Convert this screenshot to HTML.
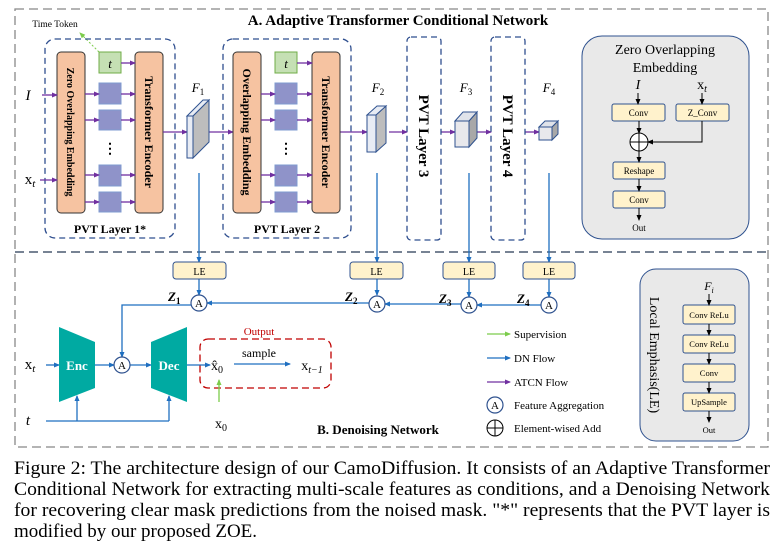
<!DOCTYPE html>
<html><head><meta charset="utf-8"><style>
html,body{margin:0;padding:0;background:#fff;width:784px;height:554px;overflow:hidden}
svg{display:block}
text{font-family:"Liberation Serif",serif}
</style></head><body>
<svg width="784" height="554" viewBox="0 0 784 554" xmlns="http://www.w3.org/2000/svg">
<defs>
<marker id="ap" markerWidth="6" markerHeight="6" refX="5" refY="3" orient="auto" markerUnits="userSpaceOnUse"><path d="M0,0.5 L6,3 L0,5.5z" fill="#7030a0"/></marker>
<marker id="ab" markerWidth="6" markerHeight="6" refX="5" refY="3" orient="auto" markerUnits="userSpaceOnUse"><path d="M0,0.5 L6,3 L0,5.5z" fill="#1f6fc0"/></marker>
<marker id="ak" markerWidth="6" markerHeight="6" refX="5" refY="3" orient="auto" markerUnits="userSpaceOnUse"><path d="M0,0.5 L6,3 L0,5.5z" fill="#000"/></marker>
<marker id="ag" markerWidth="6" markerHeight="6" refX="5" refY="3" orient="auto" markerUnits="userSpaceOnUse"><path d="M0,0.5 L6,3 L0,5.5z" fill="#7ccc4c"/></marker>
</defs>

<rect x="15" y="9" width="753" height="438" fill="none" stroke="#888" stroke-width="1.3" stroke-dasharray="9,5"/>
<line x1="15" y1="252" x2="768" y2="252" stroke="#4a5a70" stroke-width="1.5" stroke-dasharray="9,5"/>
<text x="398" y="25" font-size="15" font-weight="bold" text-anchor="middle">A. Adaptive Transformer Conditional Network</text>

<text x="55" y="27" font-size="9.5" text-anchor="middle">Time Token</text>
<line x1="99" y1="52" x2="80" y2="33" stroke="#7ccc4c" stroke-width="1" stroke-dasharray="2,2" marker-end="url(#ag)"/>

<rect x="45" y="39" width="130" height="199" rx="10" fill="none" stroke="#2f4f8f" stroke-width="1.3" stroke-dasharray="6,4"/>
<rect x="57" y="52" width="28" height="161" rx="4" fill="#f6c3a1" stroke="#333"/>
<text transform="translate(67,132) rotate(90)" font-size="10" font-weight="bold" text-anchor="middle">Zero Overlapping Embedding</text>
<rect x="99" y="52" width="22" height="21" fill="#c5e0b4" stroke="#70ad47"/>
<text x="110" y="68" font-size="13" font-style="italic" text-anchor="middle">t</text>
<g fill="#8f93c9" stroke="#7f9bd0">
<rect x="99" y="83" width="22" height="21"/><rect x="99" y="110" width="22" height="20"/>
<rect x="99" y="165" width="22" height="21"/><rect x="99" y="192" width="22" height="20"/></g>
<text x="110" y="153" font-size="14" font-weight="bold" text-anchor="middle">⋮</text>
<rect x="135" y="52" width="28" height="161" rx="4" fill="#f6c3a1" stroke="#333"/>
<text transform="translate(145,132) rotate(90)" font-size="12" font-weight="bold" text-anchor="middle">Transformer Encoder</text>
<text x="110" y="233" font-size="12" font-weight="bold" text-anchor="middle">PVT Layer 1*</text>
<g stroke="#7030a0" stroke-width="1.3" marker-end="url(#ap)">
<line x1="42" y1="95" x2="57" y2="95"/><line x1="40" y1="180" x2="57" y2="180"/>
<line x1="85" y1="94" x2="99" y2="94"/><line x1="85" y1="120" x2="99" y2="120"/>
<line x1="85" y1="175" x2="99" y2="175"/><line x1="85" y1="202" x2="99" y2="202"/>
<line x1="121" y1="63" x2="135" y2="63"/><line x1="121" y1="94" x2="135" y2="94"/>
<line x1="121" y1="120" x2="135" y2="120"/><line x1="121" y1="175" x2="135" y2="175"/>
<line x1="121" y1="202" x2="135" y2="202"/>
<line x1="163" y1="132" x2="187" y2="132"/>
<line x1="209" y1="132" x2="233" y2="132"/>
<line x1="340" y1="132" x2="367" y2="132"/>
<line x1="389" y1="132" x2="407" y2="132"/>
<line x1="441" y1="132" x2="455" y2="132"/>
<line x1="477" y1="132" x2="491" y2="132"/>
<line x1="525" y1="132" x2="539" y2="132"/>
</g>
<text x="28" y="100" font-size="15" font-style="italic" text-anchor="middle">I</text>
<text x="30" y="184" font-size="15" text-anchor="middle">x<tspan font-size="11" font-style="italic" dy="3">t</tspan></text>

<polygon points="193,116 209,100 209,142 193,158" fill="#bdbdbd" stroke="#2f528f"/>
<polygon points="187,116 203,100 209,100 193,116" fill="#e8ecf4" stroke="#2f528f"/>
<rect x="187" y="116" width="6" height="42" fill="#e8ecf4" stroke="#2f528f"/>
<text x="198" y="92" font-size="13" font-style="italic" text-anchor="middle">F<tspan font-size="9" font-style="normal" dy="3">1</tspan></text>

<rect x="223" y="39" width="128" height="199" rx="10" fill="none" stroke="#2f4f8f" stroke-width="1.3" stroke-dasharray="6,4"/>
<rect x="233" y="52" width="28" height="161" rx="4" fill="#f6c3a1" stroke="#333"/>
<text transform="translate(243,132) rotate(90)" font-size="12" font-weight="bold" text-anchor="middle">Overlapping Embedding</text>
<rect x="275" y="52" width="22" height="21" fill="#c5e0b4" stroke="#70ad47"/>
<text x="286" y="68" font-size="13" font-style="italic" text-anchor="middle">t</text>
<g fill="#8f93c9" stroke="#7f9bd0">
<rect x="275" y="83" width="22" height="21"/><rect x="275" y="110" width="22" height="20"/>
<rect x="275" y="165" width="22" height="21"/><rect x="275" y="192" width="22" height="20"/></g>
<text x="286" y="153" font-size="14" font-weight="bold" text-anchor="middle">⋮</text>
<rect x="312" y="52" width="28" height="161" rx="4" fill="#f6c3a1" stroke="#333"/>
<text transform="translate(322,132) rotate(90)" font-size="12" font-weight="bold" text-anchor="middle">Transformer Encoder</text>
<text x="287" y="233" font-size="12" font-weight="bold" text-anchor="middle">PVT Layer 2</text>
<g stroke="#7030a0" stroke-width="1.3" marker-end="url(#ap)">
<line x1="261" y1="94" x2="275" y2="94"/><line x1="261" y1="120" x2="275" y2="120"/>
<line x1="261" y1="175" x2="275" y2="175"/><line x1="261" y1="202" x2="275" y2="202"/>
<line x1="297" y1="63" x2="312" y2="63"/><line x1="297" y1="94" x2="312" y2="94"/>
<line x1="297" y1="120" x2="312" y2="120"/><line x1="297" y1="175" x2="312" y2="175"/>
<line x1="297" y1="202" x2="312" y2="202"/></g>

<polygon points="376,115 386,106 386,143 376,152" fill="#bdbdbd" stroke="#2f528f"/>
<polygon points="367,115 377,106 386,106 376,115" fill="#e8ecf4" stroke="#2f528f"/>
<rect x="367" y="115" width="9" height="37" fill="#e8ecf4" stroke="#2f528f"/>
<text x="378" y="92" font-size="13" font-style="italic" text-anchor="middle">F<tspan font-size="9" font-style="normal" dy="3">2</tspan></text>

<rect x="407" y="37" width="34" height="203" rx="4" fill="none" stroke="#2f4f8f" stroke-width="1.3" stroke-dasharray="6,4"/>
<text transform="translate(419,136) rotate(90)" font-size="15" font-weight="bold" text-anchor="middle">PVT Layer 3</text>
<rect x="491" y="37" width="34" height="203" rx="4" fill="none" stroke="#2f4f8f" stroke-width="1.3" stroke-dasharray="6,4"/>
<text transform="translate(503,136) rotate(90)" font-size="15" font-weight="bold" text-anchor="middle">PVT Layer 4</text>

<polygon points="469,121 477,112 477,138 469,147" fill="#a8a8a8" stroke="#2f528f"/>
<polygon points="455,121 463,112 477,112 469,121" fill="#e0e3ea" stroke="#2f528f"/>
<rect x="455" y="121" width="14" height="26" fill="#e8e8ec" stroke="#2f528f"/>
<text x="466" y="92" font-size="13" font-style="italic" text-anchor="middle">F<tspan font-size="9" font-style="normal" dy="3">3</tspan></text>
<polygon points="552,127 558,121 558,134 552,140" fill="#a8a8a8" stroke="#2f528f"/>
<polygon points="539,127 545,121 558,121 552,127" fill="#e0e3ea" stroke="#2f528f"/>
<rect x="539" y="127" width="13" height="13" fill="#e8e8ec" stroke="#2f528f"/>
<text x="549" y="92" font-size="13" font-style="italic" text-anchor="middle">F<tspan font-size="9" font-style="normal" dy="3">4</tspan></text>

<rect x="582" y="36" width="167" height="203" rx="20" fill="#e9e9e9" stroke="#2f528f"/>
<text x="665" y="54" font-size="14" text-anchor="middle">Zero Overlapping</text>
<text x="665" y="72" font-size="14" text-anchor="middle">Embedding</text>
<text x="638" y="89" font-size="14" font-style="italic" text-anchor="middle">I</text>
<text x="702" y="89" font-size="14" text-anchor="middle">x<tspan font-size="10" font-style="italic" dy="3">t</tspan></text>
<g fill="#fff2cc" stroke="#2f528f">
<rect x="612" y="104" width="53" height="17" rx="2"/><rect x="676" y="104" width="53" height="17" rx="2"/>
<rect x="613" y="162" width="52" height="17" rx="2"/><rect x="613" y="191" width="52" height="17" rx="2"/></g>
<g font-size="9" text-anchor="middle">
<text x="638.5" y="116">Conv</text><text x="702.5" y="116">Z_Conv</text>
<text x="639" y="174">Reshape</text><text x="639" y="203">Conv</text><text x="639" y="231">Out</text></g>
<circle cx="639" cy="142" r="9" fill="#fff" stroke="#000"/>
<line x1="630" y1="142" x2="648" y2="142" stroke="#000"/><line x1="639" y1="133" x2="639" y2="151" stroke="#000"/>
<g stroke="#000" stroke-width="1" fill="none" marker-end="url(#ak)">
<line x1="638" y1="93" x2="638" y2="104"/><line x1="702" y1="93" x2="702" y2="104"/>
<line x1="639" y1="121" x2="639" y2="133"/>
<polyline points="702,121 702,142 648,142"/>
<line x1="639" y1="151" x2="639" y2="162"/><line x1="639" y1="179" x2="639" y2="191"/>
<line x1="639" y1="208" x2="639" y2="220"/></g>

<g stroke="#1f6fc0" stroke-width="1.3" fill="none">
<line x1="199" y1="173" x2="199" y2="262" marker-end="url(#ab)"/>
<line x1="377" y1="173" x2="377" y2="262" marker-end="url(#ab)"/>
<line x1="469" y1="173" x2="469" y2="262" marker-end="url(#ab)"/>
<line x1="549" y1="173" x2="549" y2="262" marker-end="url(#ab)"/>
<line x1="199" y1="279" x2="199" y2="295" marker-end="url(#ab)"/>
<line x1="377" y1="279" x2="377" y2="295" marker-end="url(#ab)"/>
<line x1="469" y1="279" x2="469" y2="297" marker-end="url(#ab)"/>
<line x1="549" y1="279" x2="549" y2="297" marker-end="url(#ab)"/>
<line x1="541" y1="305" x2="477" y2="305" marker-end="url(#ab)"/>
<line x1="461" y1="304" x2="385" y2="304" marker-end="url(#ab)"/>
<line x1="369" y1="303" x2="207" y2="303" marker-end="url(#ab)"/>
<polyline points="191,305 122,305 122,357" marker-end="url(#ab)"/>
<line x1="46" y1="365" x2="59" y2="365" marker-end="url(#ab)"/>
<line x1="95" y1="365" x2="114" y2="365" marker-end="url(#ab)"/>
<line x1="130" y1="365" x2="151" y2="365" marker-end="url(#ab)"/>
<line x1="187" y1="365" x2="210" y2="365" marker-end="url(#ab)"/>
<line x1="234" y1="364" x2="290" y2="364" marker-end="url(#ab)"/>
<polyline points="46,421 169,421"/>
<line x1="77" y1="421" x2="77" y2="396" marker-end="url(#ab)"/>
<line x1="169" y1="421" x2="169" y2="396" marker-end="url(#ab)"/>
</g>
<g fill="#fff2cc" stroke="#2f528f">
<rect x="173" y="262" width="53" height="17" rx="3"/><rect x="350" y="262" width="53" height="17" rx="3"/>
<rect x="443" y="262" width="52" height="17" rx="3"/><rect x="523" y="262" width="52" height="17" rx="3"/></g>
<g font-size="10" text-anchor="middle">
<text x="199.5" y="275">LE</text><text x="376.5" y="275">LE</text><text x="469" y="275">LE</text><text x="549" y="275">LE</text></g>
<g fill="#fff" stroke="#2f528f" stroke-width="1.2">
<circle cx="199" cy="303" r="8"/><circle cx="377" cy="304" r="8"/><circle cx="469" cy="305" r="8"/><circle cx="549" cy="305" r="8"/>
<circle cx="122" cy="365" r="8"/><circle cx="495" cy="405" r="8"/></g>
<g font-size="11" text-anchor="middle">
<text x="199" y="307">A</text><text x="377" y="308">A</text><text x="469" y="309">A</text><text x="549" y="309">A</text><text x="122" y="369">A</text><text x="495" y="409">A</text></g>
<g font-size="13" font-weight="bold" font-style="italic">
<text x="168" y="301">Z<tspan font-size="9" font-style="normal" dy="3">1</tspan></text>
<text x="345" y="301">Z<tspan font-size="9" font-style="normal" dy="3">2</tspan></text>
<text x="439" y="303">Z<tspan font-size="9" font-style="normal" dy="3">3</tspan></text>
<text x="517" y="303">Z<tspan font-size="9" font-style="normal" dy="3">4</tspan></text></g>

<polygon points="59,327 95,342 95,388 59,402" fill="#00aaa2"/>
<text x="77" y="370" font-size="13" font-weight="bold" fill="#fff" text-anchor="middle">Enc</text>
<polygon points="151,342 187,327 187,402 151,388" fill="#00aaa2"/>
<text x="169" y="370" font-size="13" font-weight="bold" fill="#fff" text-anchor="middle">Dec</text>
<text x="30" y="369" font-size="15" text-anchor="middle">x<tspan font-size="11" font-style="italic" dy="3">t</tspan></text>
<text x="28" y="425" font-size="15" font-style="italic" text-anchor="middle">t</text>

<rect x="200" y="339" width="131" height="49" rx="8" fill="none" stroke="#c00000" stroke-width="1.3" stroke-dasharray="7,4"/>
<text x="259" y="335" font-size="11" fill="#c00000" text-anchor="middle">Output</text>
<text x="217" y="370" font-size="14" text-anchor="middle">x̂<tspan font-size="10" dy="3">0</tspan></text>
<text x="259" y="357" font-size="12" text-anchor="middle">sample</text>
<text x="312" y="370" font-size="14" text-anchor="middle">x<tspan font-size="10" font-style="italic" dy="3">t−1</tspan></text>
<line x1="219" y1="402" x2="219" y2="380" stroke="#7ccc4c" stroke-width="1.3" marker-end="url(#ag)"/>
<text x="221" y="428" font-size="14" text-anchor="middle">x<tspan font-size="10" dy="3">0</tspan></text>
<text x="378" y="434" font-size="13" font-weight="bold" text-anchor="middle">B. Denoising Network</text>

<line x1="487" y1="334" x2="510" y2="334" stroke="#7ccc4c" stroke-width="1.3" marker-end="url(#ag)"/>
<line x1="487" y1="358" x2="510" y2="358" stroke="#1f6fc0" stroke-width="1.3" marker-end="url(#ab)"/>
<line x1="487" y1="382" x2="510" y2="382" stroke="#7030a0" stroke-width="1.3" marker-end="url(#ap)"/>
<circle cx="495" cy="428" r="8" fill="#fff" stroke="#000"/>
<line x1="487" y1="428" x2="503" y2="428" stroke="#000"/><line x1="495" y1="420" x2="495" y2="436" stroke="#000"/>
<g font-size="11"><text x="514" y="338">Supervision</text><text x="514" y="362">DN Flow</text>
<text x="514" y="386">ATCN Flow</text><text x="514" y="409">Feature Aggregation</text><text x="514" y="432">Element-wised Add</text></g>

<rect x="640" y="269" width="109" height="172" rx="16" fill="#e9e9e9" stroke="#2f528f"/>
<text transform="translate(650,355) rotate(90)" font-size="14" text-anchor="middle">Local Emphasis(LE)</text>
<text x="709" y="290" font-size="12" font-style="italic" text-anchor="middle">F<tspan font-size="8" dy="3">i</tspan></text>
<g fill="#fff2cc" stroke="#2f528f">
<rect x="683" y="305" width="52" height="19" rx="2"/><rect x="683" y="335" width="52" height="18" rx="2"/>
<rect x="683" y="364" width="52" height="18" rx="2"/><rect x="683" y="393" width="52" height="18" rx="2"/></g>
<g font-size="8.5" text-anchor="middle">
<text x="709" y="318">Conv ReLu</text><text x="709" y="347">Conv ReLu</text><text x="709" y="376">Conv</text>
<text x="709" y="405">UpSample</text><text x="709" y="433">Out</text></g>
<g stroke="#000" marker-end="url(#ak)">
<line x1="709" y1="294" x2="709" y2="305"/><line x1="709" y1="324" x2="709" y2="335"/>
<line x1="709" y1="353" x2="709" y2="364"/><line x1="709" y1="382" x2="709" y2="393"/>
<line x1="709" y1="411" x2="709" y2="422"/></g>

<g font-size="18.5">
<text x="14" y="474" textLength="756" lengthAdjust="spacingAndGlyphs">Figure 2: The architecture design of our CamoDiffusion. It consists of an Adaptive Transformer</text>
<text x="14" y="495" textLength="756" lengthAdjust="spacingAndGlyphs">Conditional Network for extracting multi-scale features as conditions, and a Denoising Network</text>
<text x="14" y="516" textLength="756" lengthAdjust="spacingAndGlyphs">for recovering clear mask predictions from the noised mask. "*" represents that the PVT layer is</text>
<text x="14" y="537" textLength="243" lengthAdjust="spacingAndGlyphs">modified by our proposed ZOE.</text>
</g>
</svg>
</body></html>
